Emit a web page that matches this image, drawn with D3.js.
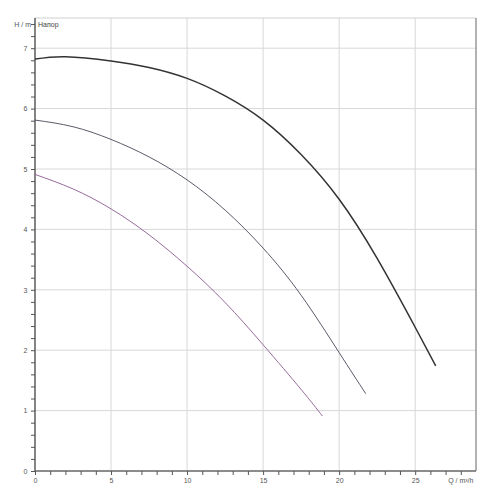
<!DOCTYPE html>
<html><head><meta charset="utf-8">
<script src="https://cdn.jsdelivr.net/npm/d3@7"></script>
<style>body{margin:0;background:#fff}svg{display:block}text{font-family:"Liberation Sans",Arial,sans-serif}</style>
</head><body><svg id="c" width="500" height="500"></svg>
<script>
// Data
const q1 = [0, 2, 5, 7.5, 10, 12.5, 15, 17.5, 20, 22.5, 25, 26.35];
const h1 = [6.82, 6.86, 6.79, 6.68, 6.50, 6.21, 5.81, 5.24, 4.50, 3.52, 2.38, 1.74];
const q2 = [0, 2.5, 5, 7.5, 10, 12.5, 15, 17.5, 20, 21.75];
const h2 = [5.81, 5.70, 5.49, 5.20, 4.82, 4.32, 3.69, 2.91, 1.96, 1.28];
const q3 = [0, 2.5, 5, 7.5, 10, 12.5, 15, 17.5, 18.9];
const h3 = [4.91, 4.67, 4.34, 3.91, 3.39, 2.79, 2.09, 1.35, 0.91];
const xTicks = [0, 5, 10, 15, 20, 25];
const yTicks = [0, 1, 2, 3, 4, 5, 6, 7];
const xLabel = "Q / m³/h";
const yLabel = "H / m";
const title = "Напор";

const svg = d3.select("#c");
const L = 35, R = 476, T = 18, B = 471;
const x = d3.scaleLinear().domain([0, 29]).range([L, R]);
const y = d3.scaleLinear().domain([0, 7.5]).range([B, T]);

// grid
svg.append("g").selectAll("line").data(xTicks.filter(d => d > 0)).join("line")
  .attr("x1", d => x(d)).attr("x2", d => x(d)).attr("y1", T).attr("y2", B)
  .attr("stroke", "#d8d8d8").attr("stroke-width", 1);
svg.append("g").selectAll("line").data(yTicks.filter(d => d > 0)).join("line")
  .attr("x1", L).attr("x2", R).attr("y1", d => y(d)).attr("y2", d => y(d))
  .attr("stroke", "#d8d8d8").attr("stroke-width", 1);
// frame top/right
svg.append("line").attr("x1", L).attr("x2", R).attr("y1", T).attr("y2", T).attr("stroke", "#d0d0d0");
svg.append("line").attr("x1", R).attr("x2", R).attr("y1", T).attr("y2", B).attr("stroke", "#999").attr("stroke-width", 1.5);

// axes
const xMinor = d3.range(0, 29, 1);
const yMinor = d3.range(0, 7.5, 0.2);
const xa = svg.append("g").attr("transform", `translate(0,${B})`)
  .call(d3.axisBottom(x).tickValues(xMinor).tickSize(4).tickFormat(d => xTicks.includes(d) ? d : ""));
const ya = svg.append("g").attr("transform", `translate(${L},0)`)
  .call(d3.axisLeft(y).tickValues(yMinor).tickSize(4).tickFormat(d => { const r = Math.round(d*10)/10; return yTicks.includes(r) ? r : ""; }));
[xa, ya].forEach(a => {
  a.select(".domain").attr("stroke", "#666").attr("stroke-width", 1.6);
  a.selectAll(".tick line").attr("stroke", "#555");
  a.selectAll(".tick text").attr("fill", "#555").attr("font-size", 7).attr("font-family", "Liberation Sans, Arial, sans-serif");
});
xa.select(".domain").attr("d", `M${L},0H${R}`);
ya.select(".domain").attr("d", `M0,${B}V${T}`);
xa.selectAll(".tick text").attr("dy", "0.75em");
ya.selectAll(".tick text").attr("dx", "-0.1em");

// axis titles
svg.append("text").attr("x", x(28)).attr("y", B + 12).attr("text-anchor", "middle")
  .attr("font-size", 7).attr("fill", "#555").text(xLabel);
svg.append("text").attr("x", L - 4).attr("y", y(7.4) + 2.5).attr("text-anchor", "end")
  .attr("font-size", 7).attr("fill", "#555").text(yLabel);
svg.append("text").attr("x", L + 3).attr("y", y(7.4) + 2.5)
  .attr("font-size", 7).attr("fill", "#444").text(title);

// curves
const line = d3.line().x(d => x(d[0])).y(d => y(d[1])).curve(d3.curveNatural);
const series = [
  {q: q1, h: h1, c: "#333333", w: 1.5},
  {q: q2, h: h2, c: "#4a4658", w: 0.9},
  {q: q3, h: h3, c: "#8a5a8e", w: 0.9}
];
series.forEach(s => {
  svg.append("path").datum(s.q.map((q, i) => [q, s.h[i]]))
    .attr("d", line).attr("fill", "none").attr("stroke", s.c).attr("stroke-width", s.w);
});
</script></body></html>
